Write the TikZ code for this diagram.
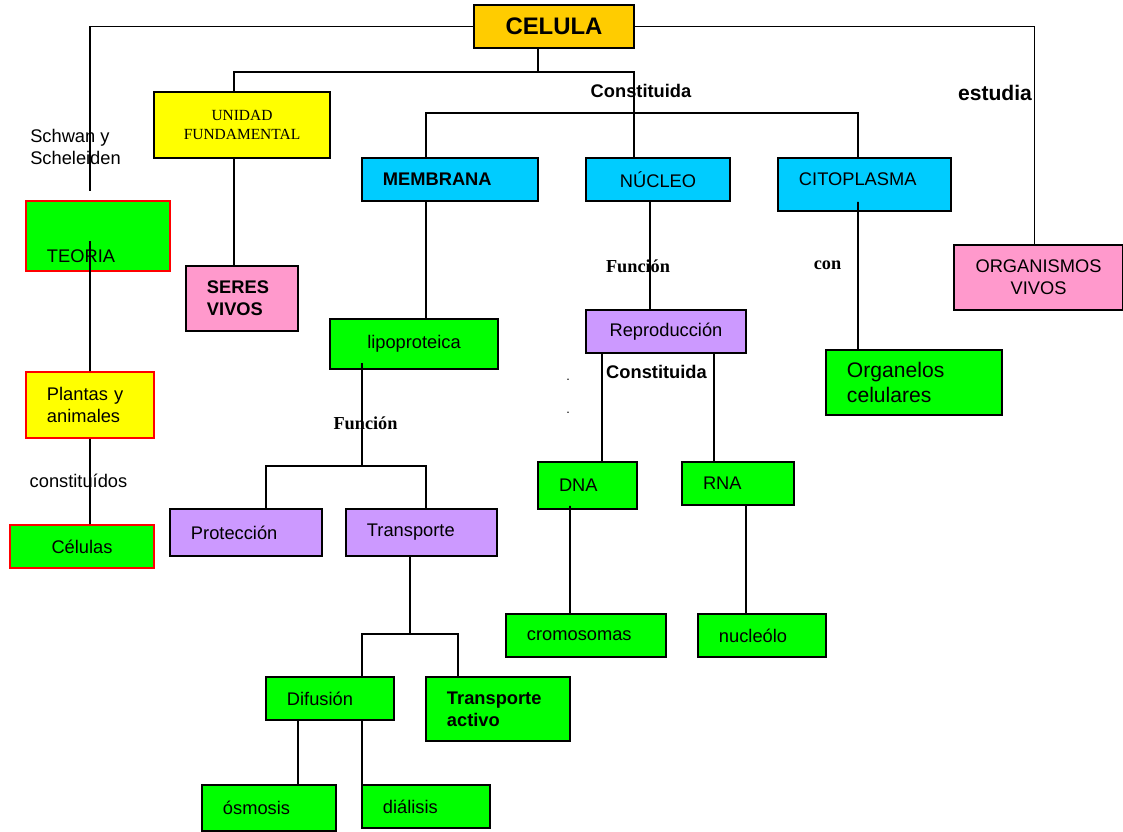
\documentclass[tikz,border=0pt]{standalone}
\usepackage{fontspec}
\setmainfont{Liberation Serif}
\setsansfont{Liberation Sans}
\definecolor{oro}{HTML}{FFCC00}
\definecolor{amarillo}{HTML}{FFFF00}
\definecolor{verde}{HTML}{00FF00}
\definecolor{rosa}{HTML}{FF99CC}
\definecolor{celeste}{HTML}{00CCFF}
\definecolor{lila}{HTML}{CC99FF}
\tikzset{
    box/.style={
        draw=black,
        line width=1.2pt,
        rectangle,
        inner xsep=0.525cm,
        inner ysep=2pt,
        align=left,
        font=\sffamily\fontsize{13}{15.5}\selectfont
    },
    redbox/.style={
        box,
        draw=red
    },
    negrita/.style={
        font=\sffamily\bfseries\fontsize{13}{15.5}\selectfont
    },
    enlace/.style={
        inner sep=0pt,
        font=\sffamily\bfseries\fontsize{13}{15.5}\selectfont
    },
    enlaceserif/.style={
        inner sep=0pt,
        font=\rmfamily\bfseries\fontsize{13}{15.5}\selectfont
    },
    nota/.style={
        inner sep=0pt,
        font=\sffamily\fontsize{13}{15.5}\selectfont
    }
}
\begin{document}
\begin{tikzpicture}[
    x=0.025cm,
    y=-0.025cm,
    link/.style={line width=1.1pt}
]
    \useasboundingbox (0,0) rectangle (1123,831);

    % Conceptos
    \node[box, fill=oro, text width=2.95cm, minimum height=1.075cm, align=center,
          font=\sffamily\bfseries\fontsize{17}{20}\selectfont]        (celula)     at (554,26.5)   {CELULA};
    \node[box, fill=amarillo, text width=3.35cm, minimum height=1.65cm, align=center,
          font=\rmfamily\fontsize{11}{13.5}\selectfont]               (unidad)     at (242,125)    {UNIDAD\\FUNDAMENTAL};
    \node[redbox, fill=verde, text width=2.55cm, minimum height=1.75cm,
          text height=1.3cm, text depth=0pt]                          (teoria)     at (98,236)     {TEORIA};
    \node[box, negrita, fill=rosa, text width=1.75cm, minimum height=1.625cm] (seres) at (242,298.5) {SERES\\VIVOS};
    \node[redbox, fill=amarillo, text width=2.15cm, minimum height=1.65cm] (plantas) at (90,405)   {Plantas y\\animales};
    \node[redbox, fill=verde, text width=2.55cm, minimum height=1.075cm, align=center] (celulas) at (82,546.5) {Células};
    \node[box, negrita, fill=celeste, text width=3.35cm, minimum height=1.075cm] (membrana) at (450,179.5) {MEMBRANA};
    \node[box, fill=celeste, text width=2.55cm, minimum height=1.075cm, align=center] (nucleo) at (658,179.5) {NÚCLEO};
    \node[box, fill=celeste, text width=3.275cm, minimum height=1.325cm,
          text depth=0.25cm]                                          (citoplasma) at (864.5,184.5) {CITOPLASMA};
    \node[box, fill=rosa, inner xsep=0.3cm, text width=3.625cm, minimum height=1.625cm,
          align=center]                                               (organismos) at (1038.5,277.5) {ORGANISMOS\\VIVOS};
    \node[box, fill=verde, text width=3.15cm, minimum height=1.25cm, align=center] (lipo) at (414,344) {lipoproteica};
    \node[box, fill=lila, text width=2.95cm, minimum height=1.075cm, align=center] (repro) at (666,331.5) {Reproducción};
    \node[box, fill=verde, text width=3.35cm, minimum height=1.625cm,
          font=\sffamily\fontsize{15}{17.5}\selectfont]               (organelos)  at (914,382.5)  {Organelos\\celulares};
    \node[box, fill=lila, text width=2.75cm, minimum height=1.175cm]  (proteccion) at (246,532.5)  {Protección};
    \node[box, fill=lila, text width=2.725cm, minimum height=1.175cm] (transporte) at (421.5,532.5) {Transporte};
    \node[box, fill=verde, text width=1.425cm, minimum height=1.175cm] (dna)       at (587.5,485.5) {DNA};
    \node[box, fill=verde, text width=1.75cm, minimum height=1.075cm] (rna)        at (738,483.5)  {RNA};
    \node[box, fill=verde, text width=2.95cm, minimum height=1.075cm] (cromo)      at (586,635.5)  {cromosomas};
    \node[box, fill=verde, text width=2.15cm, minimum height=1.075cm] (nucleolo)   at (762,635.5)  {nucleólo};
    \node[box, fill=verde, text width=2.15cm, minimum height=1.075cm] (difusion)   at (330,698.5)  {Difusión};
    \node[box, negrita, fill=verde, text width=2.55cm, minimum height=1.6cm] (activo) at (498,709) {Transporte\\activo};
    \node[box, fill=verde, text width=2.3cm, minimum height=1.15cm]   (osmosis)    at (269,808)    {ósmosis};
    \node[box, fill=verde, text width=2.15cm, minimum height=1.075cm] (dialisis)   at (426,806.5)  {diálisis};

    % Palabras de enlace
    \node[enlace]      (constituida)    at (641,91)    {Constituida};
    \node[enlace, font=\sffamily\bfseries\fontsize{15}{18}\selectfont] (estudia) at (995,93) {estudia};
    \node[enlaceserif] (funcion)        at (638,266)   {Función};
    \node[enlaceserif] (con)            at (827.5,265) {con};
    \node[enlaceserif] (funcionmem)     at (365.5,423) {Función};
    \node[enlace]      (constituidarep) at (656.5,372) {Constituida};
    \node[nota, font=\sffamily\fontsize{9}{11}\selectfont] (puntoa) at (568,380) {.};
    \node[nota, font=\sffamily\fontsize{9}{11}\selectfont] (puntob) at (568,413) {.};
    \node[nota, anchor=west, align=left] (autores) at (30,147) {Schwan y\\Scheleiden};
    \node[nota]        (constituidos)   at (78.5,481)  {constituídos};

    \coordinate (teoriatop) at (90,191);

    % Conexiones
    \draw[link] (celula.west) -| (teoriatop);
    \draw[link] (celula.east) -| ([xshift=-0.1cm]organismos.north);
    \draw[link] ([xshift=-0.4cm]celula.south) -- ++(0,23) coordinate (ramacel)
        -| ([xshift=-0.2cm]unidad.north);
    \draw[link] (ramacel) -| ([xshift=-0.6cm]nucleo.north);
    \draw[link] ([xshift=-0.6cm]membrana.north) -- ++(0,-44)
        -| ([xshift=-0.1625cm]citoplasma.north);
    \draw[link] ([xshift=-0.2cm]unidad.south) -- ([xshift=-0.2cm]seres.north);
    \draw[link] ([xshift=-0.2cm,yshift=-0.125cm]teoria.center) -- (plantas.north);
    \draw[link] (plantas.south) -- ([xshift=0.2cm]celulas.north);
    \draw[link] ([xshift=-0.6cm]membrana.south) -- ([xshift=0.3cm]lipo.north);
    \draw[link] ([xshift=-0.2cm]nucleo.south) -- ([xshift=-0.4cm]repro.north);
    \draw[link] ([xshift=-0.1625cm,yshift=0.25cm]citoplasma.south) -- ([xshift=-1.4cm]organelos.north);
    \draw[link] ([xshift=-1.3cm,yshift=0.175cm]lipo.south) -- ++(0,103) coordinate (ramalipo)
        -| ([xshift=0.5cm]proteccion.north);
    \draw[link] (ramalipo) -| ([xshift=0.1125cm]transporte.north);
    \draw[link] ([xshift=-1.6cm]repro.south) -- ([xshift=0.3625cm]dna.north);
    \draw[link] ([xshift=1.2cm]repro.south) -- ([xshift=-0.6cm]rna.north);
    \draw[link] ([xshift=-0.4375cm,yshift=0.1cm]dna.south) -- ([xshift=-0.4cm]cromo.north);
    \draw[link] ([xshift=0.2cm]rna.south) -- ([xshift=-0.4cm]nucleolo.north);
    \draw[link] ([xshift=-0.2875cm]transporte.south) -- ++(0,77) coordinate (ramatrans)
        -| ([xshift=0.8cm]difusion.north);
    \draw[link] (ramatrans) -| ([xshift=-1.0cm]activo.north);
    \draw[link] ([xshift=-0.8cm]difusion.south) -- ([xshift=0.725cm]osmosis.north);
    \draw[link] ([xshift=0.8cm]difusion.south) -- ([xshift=-1.6cm]dialisis.north);

\end{tikzpicture}
\end{document}
